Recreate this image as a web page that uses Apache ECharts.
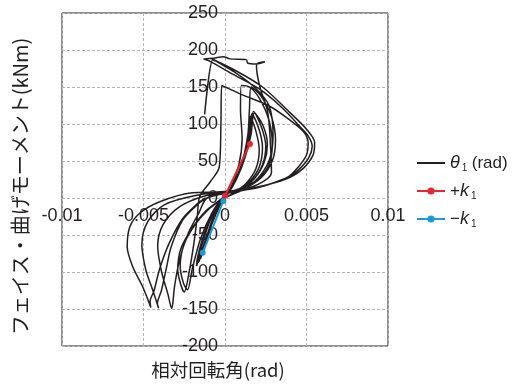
<!DOCTYPE html>
<html>
<head>
<meta charset="utf-8">
<script src="https://cdn.jsdelivr.net/npm/echarts@6/dist/echarts.min.js"></script>
<style>
html,body{margin:0;padding:0;background:#fff;}
#chart{width:522px;height:387px;}
</style>
</head>
<body>
<div id="chart"></div>
<script>
// Axis ticks
const xTicks = [-0.01, -0.005, 0, 0.005, 0.01];
const yTicks = [-200, -150, -100, -50, 0, 50, 100, 150, 200, 250];

// Legend / series names
const seriesNames = ['theta1', 'plusK1', 'minusK1'];

// Hysteresis curve (relative rotation rad, moment kNm)
const smallLoops = [
  [0,0],[0.0006,8],[0.0013,20],[0.0019,40],[0.0021,65],[0.0019,90],[0.00155,110],
  [0.00145,80],[0.0011,50],[0.0006,22],[0.0001,3],[-0.0003,-8],[-0.0007,-25],[-0.0011,-50],[-0.0014,-70],[-0.0015,-82],
  [-0.0012,-62],[-0.0008,-35],[-0.00035,-12],[0,0],
  [0.0007,8],[0.0015,22],[0.0021,42],[0.0023,68],[0.0021,92],[0.00165,114],
  [0.0015,82],[0.00115,52],[0.0006,22],[0.0001,3],[-0.0004,-10],[-0.0009,-30],[-0.0013,-55],[-0.00155,-75],[-0.0016,-86],
  [-0.00125,-64],[-0.0008,-35],[-0.0003,-10],[0,0],
  [0.0008,9],[0.0017,24],[0.0023,45],[0.0025,70],[0.00225,95],[0.00175,117],
  [0.00155,85],[0.0012,55],[0.00065,24],[0.0001,3],[-0.0005,-12],[-0.001,-33],[-0.0014,-58],[-0.0016,-78],[-0.00165,-88],
  [-0.0013,-66],[-0.00085,-37],[-0.0003,-10],[0,0],
  [0.0009,10],[0.0018,26],[0.0024,48],[0.0026,72],[0.00235,97],[0.0018,115],
  [0.0016,86],[0.00125,56],[0.0007,25],[0.0001,3],[-0.00055,-14],[-0.00105,-36],[-0.00145,-60],[-0.0017,-82],[-0.00175,-92],
  [-0.0014,-70],[-0.0009,-38],[-0.00035,-11],[0,0]
];
const mediumLoops = [
  [0,0],[0.001,10],[0.002,24],[0.0027,45],[0.0029,72],[0.0027,105],[0.0021,135],[0.0015,150],[0.001,152],
  [0.00095,120],[0.00105,80],[0.00085,45],[0.0003,12],[-0.0003,-3],[-0.001,-15],[-0.0018,-35],[-0.0025,-62],[-0.00275,-92],[-0.00255,-115],[-0.0023,-124],
  [-0.002,-95],[-0.0015,-55],[-0.0008,-20],[-0.0002,-2],
  [0.0011,11],[0.0022,27],[0.0029,50],[0.0031,78],[0.00285,110],[0.0022,138],[0.0016,150],
  [0.0015,120],[0.0014,85],[0.001,45],[0.0003,10],[-0.0004,-4],[-0.0012,-18],[-0.002,-40],[-0.0027,-68],[-0.0029,-97],[-0.0027,-118],[-0.0025,-127],
  [-0.0022,-100],[-0.0019,-60],[-0.0017,-25],[-0.00155,2]
];
const bigLoop1 = [
  [-0.00155,2],[-0.0009,22],[-0.00035,42],[-0.00025,100],[-0.0002,152],[0.001,140],[0.00274,124],[0.004,105],[0.0048,90],[0.0051,75],[0.005,58],[0.0045,42],[0.0039,29],[0.0026,18],[0.0013,11],[0,6],[-0.0012,3],
  [-0.0028,-12],[-0.0038,-36],[-0.00413,-65],[-0.0039,-99],[-0.0035,-130],[-0.00327,-149],[-0.0032,-142],
  [-0.0031,-120],[-0.0028,-85],[-0.0023,-50],[-0.0016,-20],[-0.0011,0]
];
const bigLoop2 = [
  [-0.0011,0],[0.0005,8],[0.002,18],[0.00285,34],[0.00278,75],[0.00262,116],[0.00213,151],[0.00193,178],[0.002,182],[0.00245,184],[0.0019,181],[0.0014,182],[0.0013,187],[0.0003,188],[-0.0001,191],[-0.0007,189],[-0.0013,188],
  [-0.00094,185],[0.0005,167],[0.00213,147],[0.0035,122],[0.00458,97],[0.0051,84],[0.00535,70],[0.00515,55],[0.0046,40],[0.00397,29],[0.0025,17],[0.00131,11],[-0.0002,7],[-0.00155,4.5],
  [-0.0037,-9],[-0.00474,-32],[-0.0051,-63],[-0.00486,-97],[-0.00444,-124],[-0.00407,-149],[-0.00415,-143],
  [-0.0039,-125],[-0.0036,-95],[-0.0033,-66],[-0.0026,-30],[-0.0017,-9],[-0.0011,0]
];
const bigLoop3 = [
  [-0.0011,0],[0.0004,9],[0.0018,22],[0.0027,50],[0.00295,85],[0.0027,125],[0.0018,150],[0.0006,170],[-0.0004,183],[-0.0008,188],
  [0.0005,174],[0.0023,150],[0.004,115],[0.005,93],[0.0055,75],[0.0054,58],[0.0048,40],[0.004,28],[0.0026,18],[0.001,11],[-0.0005,8],[-0.002,7],
  [-0.004,-5],[-0.0052,-20],[-0.00584,-39],[-0.006,-66],[-0.00566,-93],[-0.00505,-120],[-0.00455,-148],[-0.0046,-140],
  [-0.00435,-125],[-0.004,-95],[-0.0034,-60],[-0.0026,-28],[-0.0017,-8],[-0.0012,0]
];
const endSegment = [[-0.00125,113],[-0.00075,187],[-0.0006,185]];

// Initial stiffness lines
const plusK = [[0,3],[0.00153,73]];
const minusK = [[-0.0001,-4],[-0.00137,-74]];

const black = '#231f20', red = '#e8262d', blue = '#1e98d7';
const numFont = 'Liberation Sans';
const cjkFont = 'Noto Sans CJK JP';

const hysteresis = [].concat(smallLoops, mediumLoops, bigLoop1, bigLoop2, bigLoop3);

const blackLine = {type:'line', name:seriesNames[0], showSymbol:false, symbol:'none', smooth:0.3,
  lineStyle:{color:black, width:1.5}, itemStyle:{color:black}, z:2};

const chart = echarts.init(document.getElementById('chart'), null, {renderer:'canvas'});
chart.setOption({
  animation:false,
  textStyle:{fontFamily:numFont, color:black},
  grid:{left:62, right:134, top:13, bottom:41, show:true, borderColor:black, borderWidth:1,
    backgroundColor:'transparent', containLabel:false, outerBoundsMode:'none'},
  legend:{
    orient:'vertical', left:411, top:148, itemWidth:28, itemHeight:9, itemGap:8,
    data:[
      {name:seriesNames[0], itemStyle:{color:'rgba(0,0,0,0)', borderWidth:0, opacity:0}},
      {name:seriesNames[1]},
      {name:seriesNames[2]}
    ],
    formatter:function(n){
      if(n===seriesNames[0]) return '{it|θ}{sub|1} {t|(rad)}';
      if(n===seriesNames[1]) return '{t|+}{it|k}{sub|1}';
      return '{t|−}{it|k}{sub|1}';
    },
    textStyle:{color:black, fontFamily:numFont, fontSize:16, lineHeight:20,
      rich:{
        t:{fontSize:17, fontFamily:numFont, color:black, lineHeight:20},
        it:{fontSize:18, fontStyle:'italic', fontFamily:numFont, color:black, lineHeight:20},
        sub:{fontSize:10, fontFamily:numFont, color:black, lineHeight:20, verticalAlign:'bottom', padding:[0,0,0,2]}
      }}
  },
  xAxis:{
    type:'value', min:xTicks[0], max:xTicks[xTicks.length-1], interval:0.005,
    position:'bottom', offset:-148,
    axisLine:{show:false, onZero:false},
    axisTick:{show:false},
    axisLabel:{fontSize:18, fontFamily:numFont, color:black, margin:9,
      formatter:function(v){ return String(+v.toFixed(3)); }},
    splitLine:{show:true, lineStyle:{color:'#b5b5b5', type:[3,2], width:1}},
    name:'相対回転角(rad)', nameLocation:'middle', nameGap:163,
    nameTextStyle:{fontSize:18.5, fontFamily:cjkFont, color:black, padding:[0,14,0,0]}
  },
  yAxis:{
    type:'value', min:yTicks[0], max:yTicks[yTicks.length-1], interval:50,
    position:'left', offset:-163,
    axisLine:{show:false, onZero:false},
    axisTick:{show:false},
    axisLabel:{fontSize:18, fontFamily:numFont, color:black, margin:7},
    splitLine:{show:true, lineStyle:{color:'#b5b5b5', type:[3,2], width:1}},
    name:'フェイス・曲げモーメント(kNm)', nameLocation:'middle', nameGap:195,
    nameTextStyle:{fontSize:20, fontFamily:cjkFont, color:black, padding:[0,14,0,0]}
  },
  series:[
    Object.assign({}, blackLine, {data:hysteresis}),
    Object.assign({}, blackLine, {data:endSegment}),
    {type:'line', name:seriesNames[1], data:plusK, symbol:'circle', symbolSize:6, showSymbol:true,
      lineStyle:{color:red, width:2}, itemStyle:{color:red}, z:5},
    {type:'line', name:seriesNames[2], data:minusK, symbol:'circle', symbolSize:6, showSymbol:true,
      lineStyle:{color:blue, width:2}, itemStyle:{color:blue}, z:5}
  ]
});
</script>
</body>
</html>
